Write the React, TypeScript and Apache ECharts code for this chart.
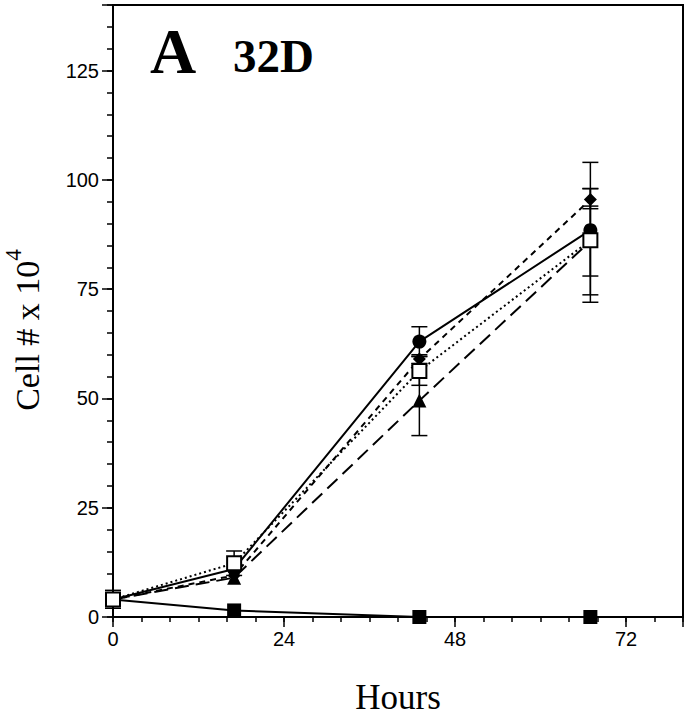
import React, { useEffect, useRef } from "react";
import * as echarts from "echarts";

const hours = [0, 17, 43, 67];
const circleVals = [4, 11, 63, 88.5];
const diamondVals = [4, 9.5, 59, 95.5];
const triangleVals = [4, 9, 49.5, 86];
const openSquareVals = [4, 12.3, 56.3, 86.2];
const filledSquareVals = [4, 1.5, 0, 0];

// error bars: [hour, low, high]
const circleErr = [[43, 59.6, 66.4], [67, 72, 104]];
const diamondErr = [[43, 58, 60], [67, 93.4, 98]];
const triangleErr = [[43, 41.5, 57.5], [67, 73.7, 98]];
const openSquareErr = [[0, 2, 6.1], [17, 9.5, 15.1], [43, 53, 59.6], [67, 78, 94]];

const xTickLabels = [0, 24, 48, 72];
const yTickLabels = [0, 25, 50, 75, 100, 125];

const serif = "'Liberation Serif', 'DejaVu Serif', serif";
const sans = "'Liberation Sans', Arial, sans-serif";

function pairs(vals: number[]) {
  return hours.map((h, i) => [h, vals[i]]);
}

export default function App() {
  const ref = useRef<HTMLDivElement>(null);
  useEffect(() => {
    document.body.style.margin = "0";
    const chart = echarts.init(ref.current!, null, { renderer: "svg" });
    const errData = [...circleErr, ...diamondErr, ...triangleErr, ...openSquareErr];
    const lineSeries = (name: string, vals: number[], symbol: string, size: number, type: any, fill = "#000") => ({
      name,
      type: "line",
      data: pairs(vals),
      symbol,
      symbolSize: size,
      showAllSymbol: true,
      z: 3,
      itemStyle: { color: fill, borderColor: "#000", borderWidth: fill === "#000" ? 0 : 2, opacity: 1 },
      lineStyle: { color: "#000", width: 2, type },
      emphasis: { disabled: true },
    });
    chart.setOption({
      animation: false,
      grid: { left: 113, top: 5, right: 8, bottom: 101, show: true, borderColor: "#000", borderWidth: 2, backgroundColor: "transparent" },
      xAxis: [
        {
          type: "value", min: 0, max: 80, interval: 4,
          axisLine: { lineStyle: { color: "#000", width: 2 } },
          axisTick: { length: 5, lineStyle: { color: "#000", width: 1.5 } },
          splitLine: { show: false },
          axisLabel: {
            margin: 12, color: "#000", fontFamily: sans, fontSize: 20,
            formatter: (v: number) => (xTickLabels.includes(v) ? String(v) : ""),
          },
          name: "Hours", nameLocation: "middle", nameGap: 63,
          nameTextStyle: { fontFamily: serif, fontSize: 35, color: "#000" },
        },
        {
          type: "value", min: 0, max: 80, interval: 24, position: "bottom",
          axisLine: { show: false },
          axisTick: { length: 10, lineStyle: { color: "#000", width: 1.5 } },
          axisLabel: { show: false }, splitLine: { show: false },
        },
      ],
      yAxis: [
        {
          type: "value", min: 0, max: 140, interval: 5,
          axisLine: { lineStyle: { color: "#000", width: 2 } },
          axisTick: { length: 6, lineStyle: { color: "#000", width: 1.5 } },
          splitLine: { show: false },
          axisLabel: {
            margin: 14, color: "#000", fontFamily: sans, fontSize: 20,
            formatter: (v: number) => (yTickLabels.includes(v) ? String(v) : ""),
          },
        },
        {
          type: "value", min: 0, max: 140, interval: 25, position: "left",
          axisLine: { show: false },
          axisTick: { length: 11, lineStyle: { color: "#000", width: 1.5 } },
          axisLabel: { show: false }, splitLine: { show: false },
        },
      ],
      graphic: [
        { type: "text", left: 150, top: 19, style: { text: "A", fontFamily: serif, fontWeight: "bold", fontSize: 64, fill: "#000" } },
        { type: "text", left: 233, top: 32, style: { text: "32D", fontFamily: serif, fontWeight: "bold", fontSize: 47, fill: "#000" } },
        {
          type: "text", x: 44, y: 330, rotation: Math.PI / 2,
          style: {
            text: "{a|Cell # x 10}{b|4}",
            align: "center", verticalAlign: "bottom",
            rich: {
              a: { fontFamily: serif, fontSize: 34, fill: "#000", lineHeight: 42, verticalAlign: "bottom" },
              b: { fontFamily: serif, fontSize: 23, fill: "#000", lineHeight: 24, verticalAlign: "top" },
            },
          },
        },
      ],
      series: [
        {
          type: "custom",
          z: 2,
          data: errData,
          renderItem: (params: any, api: any) => {
            const x = api.value(0);
            const lo = api.coord([x, api.value(1)]);
            const hi = api.coord([x, api.value(2)]);
            const w = 8;
            const style = { stroke: "#000", lineWidth: 1.5 };
            return {
              type: "group",
              children: [
                { type: "line", shape: { x1: lo[0], y1: lo[1], x2: hi[0], y2: hi[1] }, style },
                { type: "line", shape: { x1: lo[0] - w, y1: lo[1], x2: lo[0] + w, y2: lo[1] }, style },
                { type: "line", shape: { x1: hi[0] - w, y1: hi[1], x2: hi[0] + w, y2: hi[1] }, style },
              ],
            };
          },
        },
        lineSeries("filledSquare", filledSquareVals, "rect", 14, "solid"),
        lineSeries("triangle", triangleVals, "triangle", 14, [14, 7]),
        lineSeries("diamond", diamondVals, "diamond", 13, [6, 5]),
        lineSeries("circle", circleVals, "circle", 14, "solid"),
        lineSeries("openSquare", openSquareVals, "rect", 14, [2, 3], "#fff"),
      ],
    });
    return () => chart.dispose();
  }, []);
  return <div ref={ref} style={{ width: 691, height: 720 }} />;
}
